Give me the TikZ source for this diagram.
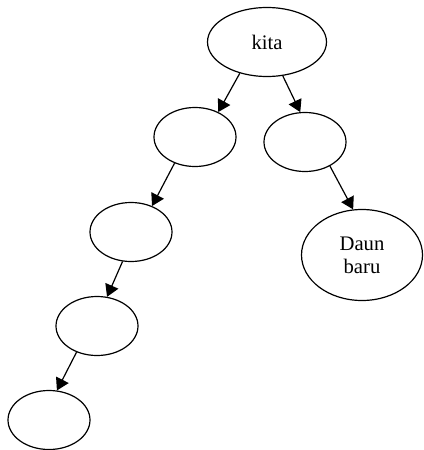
\documentclass[tikz,border=0pt]{standalone}
\usepackage{fontspec}
\setmainfont{Liberation Serif}
\usetikzlibrary{shapes.geometric,arrows.meta}
\begin{document}
\begin{tikzpicture}[x=0.75pt,y=-0.75pt,
  leaf/.style={draw,ellipse,line width=0.9pt,inner sep=0pt,
    minimum width=61.5pt,minimum height=44.25pt,
    font=\fontsize{15.5pt}{17.5pt}\selectfont,align=center},
  big/.style={leaf,minimum width=89.25pt,minimum height=51.75pt},
  bigger/.style={leaf,minimum width=90.75pt,minimum height=68.25pt},
  link/.style={line width=0.9pt,-{Triangle[length=9pt,width=10.5pt]}}]
\useasboundingbox (0,0) rectangle (424,450);
% tree nodes
\node[big] (root) at (267,42) {kita};
\node[leaf] (a) at (195,137) {};
\node[leaf] (b) at (305,142) {};
\node[leaf] (c) at (131,232) {};
\node[leaf] (d) at (97,326) {};
\node[leaf] (e) at (49,420) {};
\node[bigger] (f) at (362,255) {Daun\\baru};
% edges
\draw[link] (root.229) -- (a.47);
\draw[link] (root.295) -- (b.99);
\draw[link] (b.316) -- (f.101);
\draw[link] (a.232) -- (c.51);
\draw[link] (c.254) -- (d.71);
\draw[link] (d.232) -- (e.75);
\end{tikzpicture}
\end{document}
